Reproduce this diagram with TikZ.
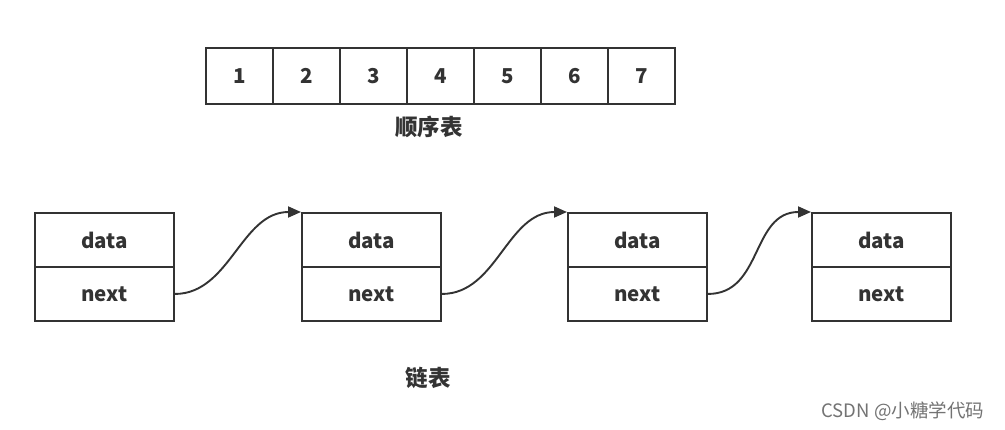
\documentclass[tikz,border=0pt]{standalone}
\usepackage{fontspec}
\setmainfont{Noto Sans CJK SC}
\usetikzlibrary{arrows.meta}
\begin{document}
\begin{tikzpicture}[x=1pt,y=-1pt,
  cell/.style={draw=black!80,line width=1.9pt,minimum width=67pt,minimum height=56pt,inner sep=0pt,font=\fontsize{20.5}{20.5}\selectfont\bfseries,text=black!80,anchor=north west},
  half/.style={draw=black!80,line width=1.9pt,minimum width=139pt,minimum height=54pt,inner sep=0pt,font=\fontsize{20.5}{20.5}\selectfont\bfseries,text=black!80,anchor=north west},
  lbl/.style={font=\fontsize{22.5}{22.5}\selectfont\bfseries,text=black!80},
  link/.style={draw=black!80,line width=1.9pt,-{Triangle[length=13pt,width=11pt]}}]
\useasboundingbox (0,0) rectangle (1005,429);
\fill[white] (0,0) rectangle (1005,429);
% array
\foreach \i in {1,...,7}{
  \node[cell] (c\i) at ({205+67*(\i-1)},47) {\i};
}
\node[lbl] (seq) at (429,127) {顺序表};
% linked list nodes
\foreach \k/\x in {1/34,2/301,3/567,4/811}{
  \node[half] (d\k) at (\x,212) {data};
  \node[half] (n\k) at (\x,266) {next};
}
\foreach \a/\b in {1/2,2/3,3/4}{
  \draw[link] (n\a.east) .. controls ++(55,0) and ([xshift=-60pt]d\b.north west) .. (d\b.north west);
}
\node[lbl] (ll) at (428,378) {链表};
\node[font=\fontsize{18.5}{18.5}\selectfont,text=black!55,anchor=west] (wm) at (818,411) {CSDN @小糖学代码};
\end{tikzpicture}
\end{document}
